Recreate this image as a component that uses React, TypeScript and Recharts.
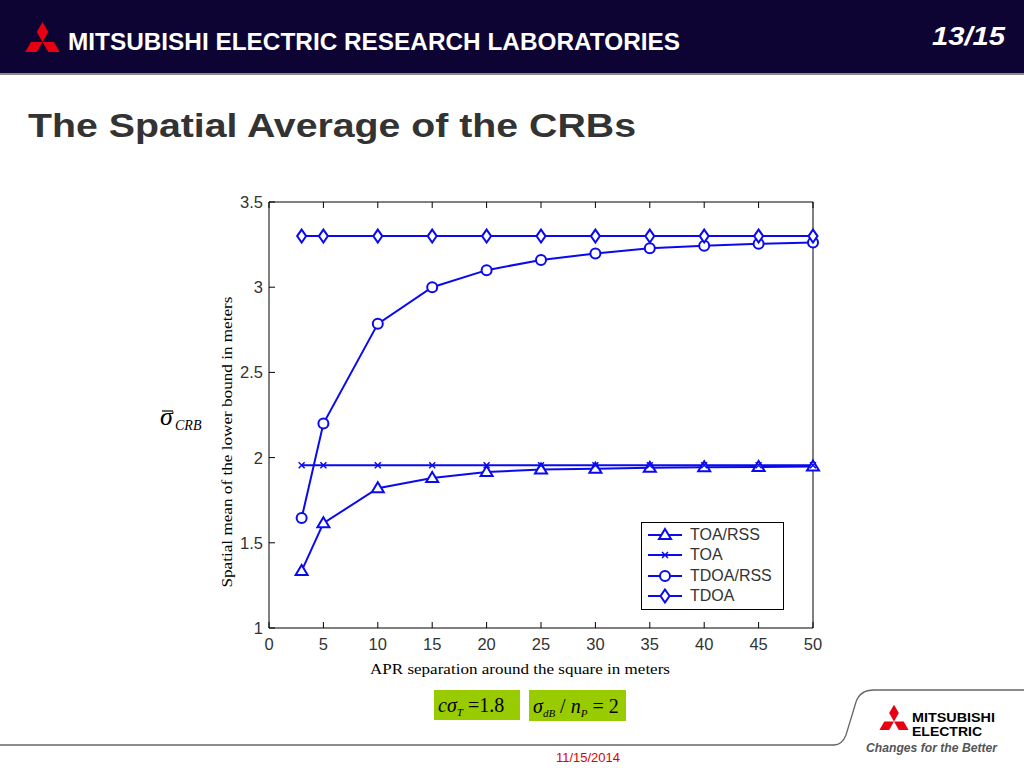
import { LineChart, Line, XAxis, YAxis, Legend } from 'recharts';

const separation = [3, 5, 10, 15, 20, 25, 30, 35, 40, 45, 50];
const toaRss = [1.335, 1.615, 1.82, 1.88, 1.915, 1.93, 1.935, 1.94, 1.943, 1.945, 1.948];
const toa = [1.955, 1.955, 1.955, 1.955, 1.955, 1.955, 1.955, 1.955, 1.955, 1.955, 1.955];
const tdoaRss = [1.645, 2.2, 2.785, 3.0, 3.1, 3.16, 3.198, 3.228, 3.243, 3.255, 3.262];
const tdoa = [3.3, 3.3, 3.3, 3.3, 3.3, 3.3, 3.3, 3.3, 3.3, 3.3, 3.3];
const xTicks = [0, 5, 10, 15, 20, 25, 30, 35, 40, 45, 50];
const yTicks = [1, 1.5, 2, 2.5, 3, 3.5];

const data = separation.map((x, i) => ({
  x,
  toaRss: toaRss[i],
  toa: toa[i],
  tdoaRss: tdoaRss[i],
  tdoa: tdoa[i],
}));

const BLUE = '#0a0aee';
const sans = '"Liberation Sans", Arial, sans-serif';
const serif = '"Liberation Serif", "Times New Roman", serif';
const TICK = 6;

const series = [
  { key: 'toaRss', name: 'TOA/RSS', marker: 'triangle' },
  { key: 'toa', name: 'TOA', marker: 'x' },
  { key: 'tdoaRss', name: 'TDOA/RSS', marker: 'circle' },
  { key: 'tdoa', name: 'TDOA', marker: 'diamond' },
];

function Marker({ type, cx, cy }: { type: string; cx: number; cy: number }) {
  const common = { fill: 'white', stroke: BLUE, strokeWidth: 2 };
  if (type === 'triangle') {
    return <path d={`M${cx},${cy - 6} L${cx + 6},${cy + 4} L${cx - 6},${cy + 4} Z`} {...common} />;
  }
  if (type === 'circle') {
    return <circle cx={cx} cy={cy} r={5} {...common} />;
  }
  if (type === 'diamond') {
    return <path d={`M${cx},${cy - 6.5} L${cx + 4.5},${cy} L${cx},${cy + 6.5} L${cx - 4.5},${cy} Z`} {...common} />;
  }
  return (
    <path
      d={`M${cx - 3},${cy - 3} L${cx + 3},${cy + 3} M${cx + 3},${cy - 3} L${cx - 3},${cy + 3}`}
      stroke={BLUE}
      strokeWidth={1.5}
      fill="none"
    />
  );
}

// tick renderers: tick lines point into the plot, MATLAB style
function LeftTick(p: any) {
  const ax = p.x + 5;
  return (
    <g>
      <line x1={ax} y1={p.y} x2={ax + TICK} y2={p.y} stroke="#000" />
      <text x={p.x - 1} y={p.y} dy={6} textAnchor="end" fill="#333" fontSize={16.5} fontFamily={sans}>
        {p.payload.value}
      </text>
    </g>
  );
}

function BottomTick(p: any) {
  const ay = p.y - 6;
  return (
    <g>
      <line x1={p.x} y1={ay} x2={p.x} y2={ay - TICK} stroke="#000" />
      <text x={p.x} y={p.y} dy={16} textAnchor="middle" fill="#333" fontSize={16.5} fontFamily={sans}>
        {p.payload.value}
      </text>
    </g>
  );
}

function TopTick(p: any) {
  return <line x1={p.x} y1={p.y} x2={p.x} y2={p.y + TICK} stroke="#000" />;
}

function RightTick(p: any) {
  return <line x1={p.x} y1={p.y} x2={p.x - TICK} y2={p.y} stroke="#000" />;
}

function LegendBox() {
  return (
    <div
      style={{
        width: 141,
        height: 84,
        border: '1px solid #000',
        background: '#fff',
        fontFamily: sans,
        fontSize: 16,
        color: '#333',
        paddingTop: 2,
        boxSizing: 'content-box',
      }}
    >
      {series.map((s) => (
        <div key={s.key} style={{ display: 'flex', alignItems: 'center', height: 20.3 }}>
          <svg width={44} height={20} style={{ marginLeft: 2 }}>
            <line x1={4} y1={10} x2={38} y2={10} stroke={BLUE} strokeWidth={2} />
            <Marker type={s.marker} cx={21} cy={10} />
          </svg>
          <span style={{ marginLeft: 2 }}>{s.name}</span>
        </div>
      ))}
    </div>
  );
}

function Diamonds({ cx, cy, s }: { cx: number; cy: number; s: number }) {
  const h = (s * Math.sqrt(3)) / 2;
  const d = `M${cx},${cy} L${cx + s / 2},${cy - h} L${cx},${cy - 2 * h} L${cx - s / 2},${cy - h} Z`;
  return (
    <g fill="#e60012">
      <path d={d} />
      <path d={d} transform={`rotate(120 ${cx} ${cy})`} />
      <path d={d} transform={`rotate(240 ${cx} ${cy})`} />
    </g>
  );
}

export default function App() {
  return (
    <div style={{ position: 'absolute', left: 0, top: 0, width: 1024, height: 768, background: '#fff', overflow: 'hidden' }}>
      <svg width={1024} height={768} style={{ position: 'absolute', left: 0, top: 0 }}>
        <rect x={0} y={0} width={1024} height={73} fill="#0d0433" />
        <rect x={0} y={73} width={1024} height={2} fill="#8a8a8a" />
        <Diamonds cx={42.5} cy={42} s={11.5} />
        <text x={68} y={50} fill="#fff" fontFamily={sans} fontWeight="bold" fontSize={24} textLength={612} lengthAdjust="spacingAndGlyphs">
          MITSUBISHI ELECTRIC RESEARCH LABORATORIES
        </text>
        <text x={932} y={45} fill="#fff" fontFamily={sans} fontWeight="bold" fontStyle="italic" fontSize={25} textLength={73} lengthAdjust="spacingAndGlyphs">
          13/15
        </text>
        <text x={28} y={137} fill="#333" fontFamily={sans} fontWeight="bold" fontSize={33} textLength={608} lengthAdjust="spacingAndGlyphs">
          The Spatial Average of the CRBs
        </text>

        <text x={160} y={425} fontFamily={serif} fontStyle="italic" fontSize={26} fill="#000">σ</text>
        <line x1={162} y1={411} x2={173} y2={411} stroke="#000" strokeWidth={1.2} />
        <text x={175} y={430} fontFamily={serif} fontStyle="italic" fontSize={14} fill="#000">CRB</text>

        <text
          x={232}
          y={442}
          transform="rotate(-90 232 442)"
          textAnchor="middle"
          fontFamily={serif}
          fontSize={14}
          fill="#000"
          textLength={291}
          lengthAdjust="spacingAndGlyphs"
        >
          Spatial mean of the lower bound in meters
        </text>
        <text x={520} y={674} textAnchor="middle" fontFamily={serif} fontSize={14} fill="#000" textLength={300} lengthAdjust="spacingAndGlyphs">
          APR separation around the square in meters
        </text>

        <rect x={434} y={690} width={86} height={30} fill="#99cc00" />
        <text x={438} y={712} fontFamily={serif} fontSize={20} fill="#000">
          <tspan fontStyle="italic">cσ</tspan>
          <tspan fontStyle="italic" fontSize={11} dy={4}>T</tspan>
          <tspan dy={-4}> =1.8</tspan>
        </text>
        <rect x={529} y={690} width={97} height={31} fill="#99cc00" />
        <text x={533} y={713} fontFamily={serif} fontSize={20} fill="#000">
          <tspan fontStyle="italic">σ</tspan>
          <tspan fontStyle="italic" fontSize={11} dy={4}>dB</tspan>
          <tspan dy={-4}> / </tspan>
          <tspan fontStyle="italic">n</tspan>
          <tspan fontStyle="italic" fontSize={11} dy={4}>P</tspan>
          <tspan dy={-4}> = 2</tspan>
        </text>

        <path d="M0,745 L834,745 Q842,745 846,735 L856,702 Q860,690 874,690 L1024,690" fill="none" stroke="#666" strokeWidth={1.3} />
        <text x={588} y={762} textAnchor="middle" fontFamily={sans} fontSize={13} fill="#e00000">11/15/2014</text>

        <Diamonds cx={894} cy={721.5} s={9.7} />
        <text x={912} y={722} fontFamily={sans} fontWeight="bold" fontSize={13} fill="#000" textLength={83} lengthAdjust="spacingAndGlyphs">MITSUBISHI</text>
        <text x={912} y={736} fontFamily={sans} fontWeight="bold" fontSize={13} fill="#000" textLength={70} lengthAdjust="spacingAndGlyphs">ELECTRIC</text>
        <text x={866} y={752} fontFamily={sans} fontWeight="bold" fontStyle="italic" fontSize={12} fill="#555" textLength={131} lengthAdjust="spacingAndGlyphs">Changes for the Better</text>
      </svg>

      <div style={{ position: 'absolute', left: 150, top: 180 }}>
        <LineChart width={700} height={500} data={data} margin={{ top: 21, right: 36, left: 79, bottom: 22 }}>
          <XAxis
            dataKey="x"
            type="number"
            domain={[0, 50]}
            ticks={xTicks}
            height={30}
            axisLine={{ stroke: '#000' }}
            tickLine={false}
            tickSize={0}
            tickMargin={6}
            tick={<BottomTick />}
          />
          <XAxis
            xAxisId="top"
            orientation="top"
            dataKey="x"
            type="number"
            domain={[0, 50]}
            ticks={xTicks}
            height={1}
            axisLine={{ stroke: '#000' }}
            tickLine={false}
            tickSize={0}
            tickMargin={0}
            tick={<TopTick />}
          />
          <YAxis
            type="number"
            domain={[1, 3.5]}
            ticks={yTicks}
            width={40}
            axisLine={{ stroke: '#000' }}
            tickLine={false}
            tickSize={0}
            tickMargin={5}
            tick={<LeftTick />}
          />
          <YAxis
            yAxisId="right"
            orientation="right"
            type="number"
            domain={[1, 3.5]}
            ticks={yTicks}
            width={1}
            axisLine={{ stroke: '#000' }}
            tickLine={false}
            tickSize={0}
            tickMargin={0}
            tick={<RightTick />}
          />
          {series.map((s) => (
            <Line
              key={s.key}
              dataKey={s.key}
              name={s.name}
              stroke={BLUE}
              strokeWidth={2}
              isAnimationActive={false}
              dot={(p: any) => <Marker key={`${s.key}-${p.index}`} type={s.marker} cx={p.cx} cy={p.cy} />}
              activeDot={false}
            />
          ))}
          <Legend
            layout="vertical"
            align="center"
            verticalAlign="middle"
            content={() => <LegendBox />}
            wrapperStyle={{ left: 491, top: 342, width: 143 }}
          />
        </LineChart>
      </div>
    </div>
  );
}
